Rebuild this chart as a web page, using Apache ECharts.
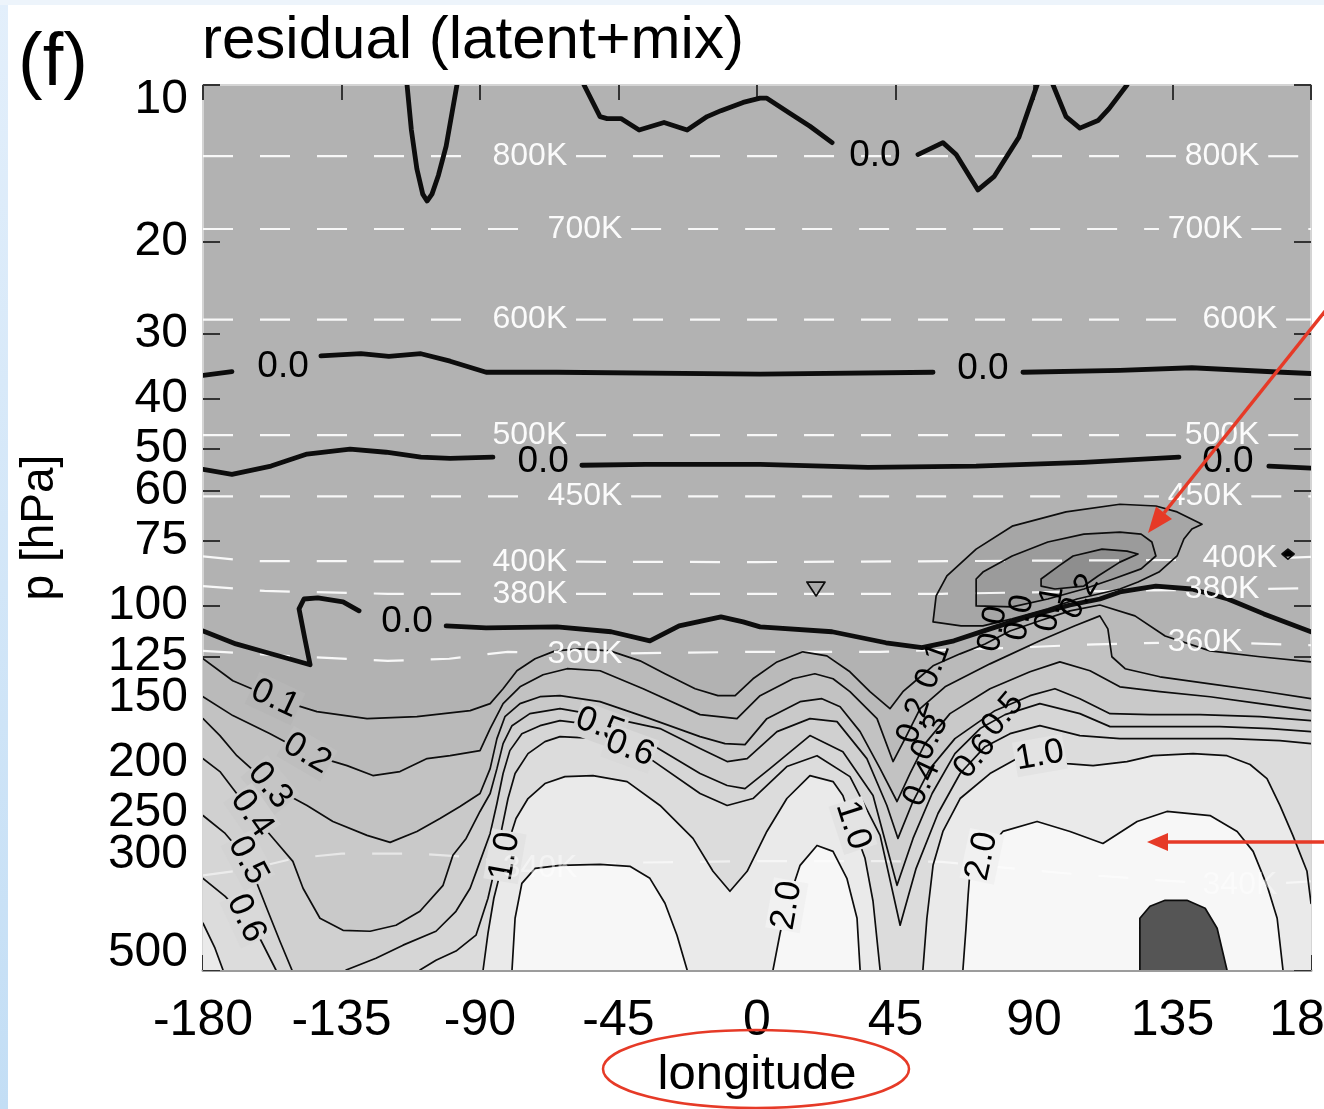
<!DOCTYPE html>
<html>
<head>
<meta charset="utf-8">
<title>residual (latent+mix)</title>
<script src="https://cdn.jsdelivr.net/npm/echarts/dist/echarts.min.js"></script>
<style>
html, body { margin: 0; padding: 0; background: #fff; }
#main { width: 1324px; height: 1109px; }
</style>
</head>
<body>
<div id="main"></div>
<script>
// axis extent
var LON_MIN = -180, LON_MAX = 180, P_TOP = 10, P_BOTTOM = 500;
var pressureTicks = [10, 20, 30, 40, 50, 60, 75, 100, 125, 150, 200, 250, 300, 500];

// thick 0.0 contours [lon, p], null = gap for a label
var zeroTopV = [[-113.7,10],[-112.3,12.2],[-110.5,14.5],[-108.6,16.2],[-107.2,16.7],[-105.6,16.2],[-103.5,14.9],[-101,13.1],[-97.5,10]];
var zeroTopMid = [[-56.2,10],[-51,11.5],[-48.7,11.6],[-44.2,11.6],[-38.3,12.2],[-30.2,11.8],[-22.7,12.2],[-16.2,11.5],[-11.7,11.2],[-4.5,10.8],[1,10.6],[3.2,10.6],[10.4,11.3],[17.2,12],[24.4,12.9],null,[52.3,13.6],[60.4,12.9],[64.7,13.6],[71.8,15.9],[77,15],[85.1,12.6],[91,10]];
var zeroTopRight = [[96.2,10],[100.4,11.5],[104.9,12.1],[110.8,11.7],[114.4,11.1],[120.2,10]];
var zero35 = [[-180,36.1],[-170.6,35.5],null,[-141.7,33.1],[-128.7,32.8],[-119.6,33.2],[-109.2,32.8],[-99.7,33.9],[-88,35.6],[-65,35.6],[1,35.9],[57.2,35.6],null,[86.4,35.6],[117.9,35.3],[141.3,34.9],[170.6,35.6],[180,35.8]];
var zero55 = [[-180,54.7],[-170.6,55.9],[-157.9,53.9],[-146.2,51.1],[-132.2,50],[-120.5,50.7],[-109.2,51.8],[-99.7,52.1],[-85.8,51.8],null,[-56.9,53.7],[-36.1,53.5],[1,53.5],[36.1,54.2],[71.2,53.9],[106.2,53],[137.1,51.8],null,[166.3,53.9],[180,54.4]];
var zero100 = [[-180,111.7],[-169.3,118.3],[-160.2,122.5],[-152.1,126.3],[-145.2,129.7],[-146.9,115.7],[-148.8,101.3],[-147.2,97],[-142.7,96.5],[-134.5,98.2],[-129.3,102.2],null,[-101,109.2],[-88,110.2],[-65,109.7],[-47.4,112.1],[-34.8,116.7],[-25.3,109.2],[-11.7,105],[-4.5,107.3],[1,109.7],[24.4,112.1],[41.9,117.7],[53.6,120.3],[64,116.7],[75.7,110.7],[88.7,104.5],[101.7,99.6],[111.4,97],[117.9,94],[129.6,91.6],[141.3,92.8],[153,97],[164.7,103.6],[180,112.1]];

// thin positive contours
var level01 = [[-180,126.3],[-170.3,139.2],[-156.6,150.7],[-143,159.6],[-126.7,164.6],[-110.5,163.2],[-93.2,158.9],[-86.7,154],[-82.5,144.2],[-78,133.2],[-72.1,126.3],[-65.6,122],[-57.5,120.9],[-47.8,122],[-38,127.5],[-29.9,135],[-20.1,144.2],[-12.7,148.7],[-7.1,148.7],[-1.3,138],[6.5,128.1],[14.9,122.5],[22.7,124.7],[30.2,133.8],[36.7,146.1],[43.2,157.5],[47.4,146.1],[52.3,138],[57.2,130.3],[66,123.6],[74.1,118.3],[82.2,111.7],[91.9,106.8],[101.7,102.2],[111.4,99.6],[122.8,104.5],[132.6,114.2],[147.2,122],[163.4,125.2],[180,128.1]];
var level02 = [[-180,149.4],[-170.3,162.4],[-158.2,175.9],[-146.2,192.1],[-133.2,202.6],[-124.8,211.7],[-116,208],[-107.2,196.4],[-99.7,193.9],[-90,189.6],[-86.7,172],[-82.5,154],[-77,143],[-69.5,135.6],[-61.7,132],[-51,133.2],[-37,144.2],[-18.5,161.7],[-6.5,164.6],[1,148.7],[11.7,138],[18.8,135],[24.7,138],[30.2,146.1],[39,164.6],[44.2,199],[48.1,179.8],[53,157.5],[61.1,143],[75.7,129.2],[91.9,116.7],[103.3,109.2],[111.4,104.5],[114,110.7],[115.3,125.2],[119.6,132],[130.9,136.8],[147.2,141.1],[163.4,145.5],[180,150.7]];
var level03 = [[-180,164.6],[-174.5,177.4],[-169,193.9],[-158.2,221.2],[-146.2,241.6],[-137.8,259.3],[-126.7,275.8],[-119.2,284.4],[-110.5,271],[-103,255.9],[-96.5,242.7],[-90,229.2],[-86.7,205.3],[-84.5,179.8],[-81.9,163.2],[-77,154],[-70.5,149.4],[-64,148.7],[-51,152.7],[-34.8,164.6],[-18.5,178.2],[-10.4,183.8],[-3.9,184.6],[3.2,164.6],[14,152.7],[21.1,150.7],[27,156.2],[33.5,174.3],[40,205.3],[45.5,237.4],[49.7,209.8],[54.6,183.8],[62.7,161],[75.7,144.2],[88.7,133.8],[98.4,128.1],[108.2,133.2],[117.9,143],[130.9,146.1],[147.2,149.4],[163.4,154],[180,158.9]];
var level04 = [[-180,196.4],[-174.5,208],[-170.3,224.2],[-164.1,250.3],[-156.6,282],[-150.8,309.3],[-147.5,348.4],[-142,397.8],[-134.5,419.5],[-125.7,421.3],[-117.3,410.2],[-109.5,385.7],[-102,343.9],[-98.8,301.2],[-94.5,279.5],[-90,248.1],[-86.7,229.2],[-84.5,205.3],[-82.5,183.8],[-79.6,169.8],[-73.8,161],[-64,157.5],[-51,162.4],[-31.5,172],[-18.5,187.9],[-9.7,199],[-3.2,196.4],[6.5,174.3],[17.2,164.6],[26,166.8],[35.7,196.4],[42.2,241.6],[45.8,279.5],[50.4,239.5],[56.2,205.3],[64.3,179.8],[77.3,158.9],[88.7,148.7],[96.8,144.2],[104.9,150.7],[114.7,161],[127.7,161.7],[143.9,161.7],[163.4,163.2],[180,166.1]];
var level05a = [[-180,252.6],[-172.8,273.4],[-165.4,307.9],[-158.9,385.7],[-155,440.3],[-151.1,500]];
var level05b = [[-133.5,500],[-123.8,474.6],[-115,448],[-104.3,421.3],[-97.8,385.7],[-93.2,348.4],[-90,309.3],[-86.7,273.4],[-84.5,239.5],[-82.5,209.8],[-80.3,189.6],[-76.4,175.9],[-70.5,169.8],[-64,166.1],[-51,169.8],[-34.8,183.8],[-18.5,209.8],[-9.7,221.2],[-3.9,224.2],[4.2,205.3],[17.2,177.4],[27.9,190.5],[37.7,231.2],[45.5,343.9],[50.7,279.5],[56.9,229.2],[64.3,192.1],[72.5,172],[80.6,161.7],[91.9,154],[104.9,161],[114.7,170.5],[130.9,170.5],[150.4,170.5],[166.7,172],[180,174.3]];
var level06a = [[-180,333.4],[-172.8,361],[-166,397.8],[-161.2,438.4],[-156.3,500]];
var level06b = [[-109.5,500],[-104.3,478.7],[-97.8,459.9],[-91.3,428.7],[-87.4,364.1],[-84.8,312.1],[-82.9,267.4],[-80.9,234.3],[-78.6,209.8],[-74.4,192.1],[-68.9,182.2],[-64,178.2],[-51,179.8],[-34.8,196.4],[-18.5,229.2],[-9.7,241.6],[-1.3,234.3],[9.7,203.4],[19.5,193.9],[30.2,212.7],[40,275.8],[46.5,410.2],[51.7,319],[58.8,250.3],[66,209.8],[74.1,186.3],[82.2,175.9],[91.9,169.8],[104.9,177.4],[117.9,179.8],[134.2,179.8],[153.7,179.8],[169.9,181.4],[180,183.8]];
var level10a = [[-180,406.6],[-176.1,454.1],[-173.5,500]];
var level10b = [[-89,500],[-87.4,425],[-85.5,364.1],[-82.9,316.2],[-80.9,285.8],[-78.3,255.9],[-74.4,234.3],[-68.9,219.3],[-62.4,212.7],[-53.3,211.7],[-42.2,217.4],[-31.5,241.6],[-20.8,279.5],[-14.3,323.2],[-8.8,353.1],[-3.2,323.2],[3.2,271],[9.7,234.3],[17.2,211.7],[24.7,217.4],[27.9,231.2],[31.2,263.9],[35.1,305.2],[37.7,369],[40,500]];
var level10c = [[53.9,500],[55.2,397.8],[57.2,314.8],[60.4,271],[66,234.3],[75.7,209.8],[84.5,196.4],[91.9,194.7],[100.7,200.8],[109.2,202.6],[120.2,199],[128.7,193.9],[141.7,192.1],[152.7,193.9],[160.2,201.6],[165.7,214.5],[169.9,241.6],[174.1,275.8],[178.7,323.2],[180,372.3]];
var level20a = [[-79.6,500],[-78.6,397.8],[-76.4,340.9],[-72.1,319],[-64,314.8],[-51,313.4],[-41.3,316.2],[-34.8,333.4],[-29.9,372.3],[-26,428.7],[-22.7,500]];
var level20b = [[5.2,500],[7.5,425],[9.7,375.6],[14,314.8],[19.5,288.3],[24.7,296],[29.2,333.4],[32.5,397.8],[33.5,500]];
var level20c = [[66.9,500],[67.9,415.8],[68.6,359.4],[69.2,323.2],[73.1,302.5],[79.9,271],[91,259.3],[101.7,271],[112.4,285.8],[123.5,259.3],[133.2,248.1],[147.2,252.6],[156,271],[161.2,296],[165.7,343.9],[169,397.8],[170.9,500]];
var peakPatch = [[124.4,500],[124.4,397.8],[127.7,377.3],[132.6,367.4],[139.7,367.4],[145.6,380.6],[149.5,415.8],[152.7,500]];

// closed negative contours near 100E, 80 hPa
var negOuter = [[57.2,107.3],[58.2,95.7],[61.7,87.6],[71.2,77.8],[82.9,70.3],[100.4,66],[117.9,63.8],[129.6,64.3],[136.5,66],[144.6,69.7],[141.3,71.2],[138.7,74.4],[136.5,80.2],[130.6,86.1],[123.8,90],[117.9,92.8],[104,97],[94.5,101.3],[82.9,105.9],[73.4,109.2],[66.3,109.2]];
var negMid = [[71.2,88.8],[73.4,86.1],[82.9,80.2],[94.5,75.4],[106.2,72.8],[117.9,72.2],[124.8,72.8],[128.3,75.4],[129.6,80.2],[124.8,84.9],[115.7,88.8],[106.2,92.8],[94.5,97],[82.9,100.4],[71.2,100]];
var negInner = [[92.3,88.8],[98.1,83.8],[102.7,80.2],[112.1,77.8],[120.2,78.5],[123.8,79.5],[117.9,82.4],[110.8,87.6],[106.2,91.6],[96.8,92.8],[92.3,91.6]];
var negSmall = [[16.2,90],[22.1,90],[19.2,95.7]];
var blackDot = [[170.6,79.5],[172.5,77.8],[174.5,79.5],[172.5,81.3]];

// isentropes (potential temperature)
var theta800 = [[-180,13.7],[180,13.7]];
var theta700 = [[-180,18.9],[180,18.9]];
var theta600 = [[-180,28.2],[180,28.2]];
var theta500 = [[-180,47],[180,47]];
var theta450 = [[-180,61.6],[180,61.6]];
var theta400 = [[-180,80.3],[-165,82],[0,82.4],[160,81.5],[180,80.5]];
var theta380 = [[-180,91.6],[-160,93.6],[-120,94.8],[60,94.8],[120,93.5],[180,92.5]];
var theta360 = [[-180,122],[-150,125],[-120,127.5],[-100,126.3],[-81,122.5],[-56,123.6],[0,122.5],[40,122.5],[80,120.5],[110,118.5],[145,117.2],[180,119]];
var theta340 = [[-180,329],[-170,323],[-160,315],[-150,305],[-135,299],[-110,299],[-95,303],[-85,308],[-70,319],[-40,311],[0,309],[40,309],[60,310],[100,326],[130,336],[157,344],[180,338]];
var isentropeLabels = [[-73.8,13.7,'800K'],[151.1,13.7,'800K'],[-55.9,18.9,'700K'],[145.6,18.9,'700K'],[-73.8,28.2,'600K'],[156.9,28.2,'600K'],[-73.8,47,'500K'],[151.1,47,'500K'],[-55.9,61.6,'450K'],[145.6,61.6,'450K'],[-73.8,82.4,'400K'],[156.9,80.8,'400K'],[-73.8,94.8,'380K'],[151.1,92.8,'380K'],[-55.9,123.6,'360K'],[145.6,117.2,'360K'],[-70.5,319,'340K'],[156.9,344,'340K']];

// contour labels [lon, p, text]
var zeroLabels = [[-154,34.7,'0.0'],[73.4,35,'0.0'],[-69.5,53,'0.0'],[153,52.8,'0.0'],[-113.7,107.3,'0.0'],[38.3,13.7,'0.0']];
var levelLabels = [[-156.6,150.7,'0.1'],[-146.2,192.1,'0.2'],[-158.2,221.2,'0.3'],[-164.1,250.3,'0.4'],[-165.4,307.9,'0.5'],[-166,397.8,'0.6'],[-51,169.8,'0.5'],[-41.3,187.9,'0.6'],[-81.9,302.5,'1.0'],[9.7,375.6,'2.0'],[31.2,263.9,'1.0'],[73.1,302.5,'2.0'],[91.9,193.9,'1.0']];
var levelLabelAngles = [-25, -30, -50, -55, -62, -65, -20, -20, 80, 80, -72, 78, 10];
var crowdedLabels = [[57.2,130.3,'0.1'],[51,166.1,'0.2'],[56.2,179,'0.3'],[53.6,219.3,'0.4'],[79.9,161.7,'0.5'],[70.8,194.7,'0.6'],[76.7,110.7,'0.0'],[85.4,105.4,'0.0'],[95.2,101.3,'0.1'],[104.9,96.1,'0.2']];
var crowdedLabelAngles = [70, 72, 65, 65, 50, 50, 80, 80, 80, 60];

// ---------------------------------------------------------------
var LABEL_FONT = '"Liberation Sans", Arial, sans-serif';

function toY(p) { return Math.log10(p); }

function closeBand(line, side) {
  var pts = line.slice();
  if (side === 'both') { pts.push([LON_MAX, P_BOTTOM], [LON_MIN, P_BOTTOM]); }
  else if (side === 'left') { pts.push([LON_MIN, P_BOTTOM]); }
  else if (side === 'right') { pts.push([LON_MAX, P_BOTTOM]); }
  return pts;
}

function splitRuns(pts) {
  var runs = [[]];
  pts.forEach(function (d) {
    if (d === null) { runs.push([]); } else { runs[runs.length - 1].push(d); }
  });
  return runs.filter(function (r) { return r.length > 1; });
}

// break a dashed isentrope where its labels sit
function cutGaps(pts, centers, half) {
  var out = [];
  var inGap = function (lon) {
    return centers.some(function (c) { return Math.abs(lon - c) < half; });
  };
  for (var i = 0; i < pts.length; i++) {
    var b = pts[i];
    if (i > 0) {
      var a = pts[i - 1];
      var edges = [];
      centers.forEach(function (c) {
        edges.push({ lon: c - half, open: true }, { lon: c + half, open: false });
      });
      edges.filter(function (e) { return e.lon > a[0] && e.lon < b[0]; })
        .sort(function (u, v) { return u.lon - v.lon; })
        .forEach(function (e) {
          var t = (e.lon - a[0]) / (b[0] - a[0]);
          var q = [e.lon, a[1] + (b[1] - a[1]) * t];
          if (e.open) { out.push(q, null); } else { out.push(q); }
        });
    }
    if (!inGap(b[0])) out.push(b);
  }
  return out;
}

// filled bands, painted from low to high values
var fills = [
  { pts: closeBand(level01, 'both'), color: '#bababa' },
  { pts: closeBand(level02, 'both'), color: '#c2c2c2' },
  { pts: closeBand(level03, 'both'), color: '#c9c9c9' },
  { pts: closeBand(level04, 'both'), color: '#d0d0d0' },
  { pts: closeBand(level05a, 'left'), color: '#d6d6d6' },
  { pts: closeBand(level05b, 'right'), color: '#d6d6d6' },
  { pts: closeBand(level06a, 'left'), color: '#dcdcdc' },
  { pts: closeBand(level06b, 'right'), color: '#dcdcdc' },
  { pts: closeBand(level10a, 'left'), color: '#eaeaea' },
  { pts: level10b, color: '#eaeaea' },
  { pts: closeBand(level10c, 'right'), color: '#eaeaea' },
  { pts: level20a, color: '#f7f7f7' },
  { pts: level20b, color: '#f7f7f7' },
  { pts: level20c, color: '#f7f7f7' },
  { pts: peakPatch, color: '#555555' },
  { pts: negOuter, color: '#a6a6a6' },
  { pts: negMid, color: '#9b9b9b' },
  { pts: negInner, color: '#8e8e8e' },
  { pts: negSmall, color: '#aaaaaa' },
  { pts: blackDot, color: '#000000' }
];

var strokes = [];
[zeroTopV, zeroTopMid, zeroTopRight, zero35, zero55, zero100].forEach(function (l) {
  splitRuns(l).forEach(function (r) { strokes.push({ pts: r, width: 4.8 }); });
});
[level01, level02, level03, level04, level05a, level05b, level06a, level06b,
 level10a, level10b, level10c, level20a, level20b, level20c, peakPatch].forEach(function (l) {
  strokes.push({ pts: l, width: 1.7 });
});
[negOuter, negMid, negInner, negSmall, blackDot].forEach(function (l) {
  strokes.push({ pts: l.concat([l[0]]), width: 1.7 });
});

var isentropes = [['800K', theta800], ['700K', theta700], ['600K', theta600], ['500K', theta500],
  ['450K', theta450], ['400K', theta400], ['380K', theta380], ['360K', theta360], ['340K', theta340]];
var dashed = [];
isentropes.forEach(function (it) {
  var cuts = isentropeLabels.filter(function (l) { return l[2] === it[0]; }).map(function (l) { return l[0]; });
  splitRuns(cutGaps(it[1], cuts, 15)).forEach(function (r) {
    dashed.push({ pts: r, faint: it[0] === '340K' });
  });
});

var texts = [];
zeroLabels.forEach(function (l) {
  texts.push({ at: l, text: l[2], angle: 0, size: 37, color: '#000' });
});
var labelBg = { '0.1': '#b6b6b6', '0.2': '#bebebe', '0.3': '#c5c5c5', '0.4': '#cdcdcd',
  '0.5': '#d3d3d3', '0.6': '#d9d9d9', '1.0': '#e3e3e3', '2.0': '#f1f1f1' };
levelLabels.forEach(function (l, i) {
  texts.push({ at: l, text: l[2], angle: levelLabelAngles[i], size: 35, color: '#000', bg: labelBg[l[2]] });
});
crowdedLabels.forEach(function (l, i) {
  texts.push({ at: l, text: l[2], angle: crowdedLabelAngles[i], size: 33, color: '#000' });
});
isentropeLabels.forEach(function (l) {
  texts.push({ at: l, text: l[2], angle: 0, size: 32, color: '#ffffff', opacity: l[2] === '340K' ? 0.45 : 0.95 });
});

function project(api, pts) {
  return pts.map(function (d) { return api.coord([d[0], toY(d[1])]); });
}
function indexData(arr) {
  return arr.map(function (x, i) { return [0, 2, i]; });
}

var chart = echarts.init(document.getElementById('main'));
var option = {
  animation: false,
  backgroundColor: '#ffffff',
  textStyle: { fontFamily: LABEL_FONT },
  grid: { left: 203, right: 13, top: 85, bottom: 139, show: true, backgroundColor: '#b2b2b2',
    borderWidth: 0, outerBoundsMode: 'none', containLabel: false },
  xAxis: [{
    type: 'value', min: LON_MIN, max: LON_MAX, interval: 45, position: 'bottom',
    axisLine: { show: true, onZero: false, lineStyle: { color: '#9c9c9c', width: 3 } },
    axisTick: { show: true, inside: true, length: 15, lineStyle: { color: '#333', width: 2 } },
    axisLabel: { color: '#000', fontSize: 50, margin: 26 },
    splitLine: { show: false },
    name: 'longitude', nameLocation: 'middle', nameGap: 73,
    nameTextStyle: { color: '#000', fontSize: 49 }
  }, {
    type: 'value', min: LON_MIN, max: LON_MAX, interval: 45, position: 'top',
    axisLine: { show: true, onZero: false, lineStyle: { color: '#d4d4d4', width: 2 } },
    axisTick: { show: true, inside: true, length: 15, lineStyle: { color: '#333', width: 2 } },
    axisLabel: { show: false }, splitLine: { show: false }
  }],
  yAxis: [{
    type: 'value', min: toY(P_TOP), max: toY(P_BOTTOM), inverse: true, position: 'left',
    axisLine: { show: true, onZero: false, lineStyle: { color: '#d4d4d4', width: 2 } },
    axisTick: { show: true, inside: true, length: 17, customValues: pressureTicks.map(toY),
      lineStyle: { color: '#333', width: 2 } },
    axisLabel: {
      color: '#000', fontSize: 48, margin: 15, customValues: pressureTicks.map(toY),
      formatter: function (v) {
        var p = Math.round(Math.pow(10, v));
        if (p === P_TOP) return '{top|' + p + '}';
        if (p === P_BOTTOM) return '{bot|' + p + '}';
        return String(p);
      },
      rich: {
        top: { fontSize: 48, color: '#000', padding: [30, 0, 0, 0] },
        bot: { fontSize: 48, color: '#000', padding: [0, 0, 34, 0] }
      }
    },
    splitLine: { show: false },
    name: 'p [hPa]', nameLocation: 'middle', nameGap: 140,
    nameTextStyle: { color: '#000', fontSize: 46 }
  }, {
    type: 'value', min: toY(P_TOP), max: toY(P_BOTTOM), inverse: true, position: 'right',
    axisLine: { show: true, onZero: false, lineStyle: { color: '#d4d4d4', width: 2 } },
    axisTick: { show: true, inside: true, length: 17, customValues: pressureTicks.map(toY),
      lineStyle: { color: '#333', width: 2 } },
    axisLabel: { show: false }, splitLine: { show: false }
  }],
  series: [{
    type: 'custom', name: 'bands', coordinateSystem: 'cartesian2d', clip: true, silent: true, z: 1,
    data: indexData(fills),
    renderItem: function (params, api) {
      var f = fills[params.dataIndex];
      return { type: 'polygon', shape: { points: project(api, f.pts) }, style: { fill: f.color } };
    }
  }, {
    type: 'custom', name: 'isentropes', coordinateSystem: 'cartesian2d', clip: true, silent: true, z: 2,
    data: indexData(dashed),
    renderItem: function (params, api) {
      var d = dashed[params.dataIndex];
      return { type: 'polyline', shape: { points: project(api, d.pts) },
        style: { fill: null, stroke: '#ffffff', lineWidth: 2.2, lineDash: [30, 27], opacity: d.faint ? 0.55 : 0.9 } };
    }
  }, {
    type: 'custom', name: 'contours', coordinateSystem: 'cartesian2d', clip: true, silent: true, z: 3,
    data: indexData(strokes),
    renderItem: function (params, api) {
      var s = strokes[params.dataIndex];
      return { type: 'polyline', shape: { points: project(api, s.pts) },
        style: { fill: null, stroke: '#0d0d0d', lineWidth: s.width, lineJoin: 'round', lineCap: 'round' } };
    }
  }, {
    type: 'custom', name: 'labels', coordinateSystem: 'cartesian2d', clip: true, silent: true, z: 4,
    data: indexData(texts),
    renderItem: function (params, api) {
      var t = texts[params.dataIndex];
      var pt = api.coord([t.at[0], toY(t.at[1])]);
      var style = { text: t.text, fill: t.color, font: t.size + 'px ' + LABEL_FONT,
        align: 'center', verticalAlign: 'middle', opacity: t.opacity == null ? 1 : t.opacity };
      if (t.bg) { style.backgroundColor = t.bg; style.padding = [0, 1]; }
      return { type: 'text', x: pt[0], y: pt[1], rotation: t.angle * Math.PI / 180, style: style };
    }
  }],
  graphic: [
    { type: 'rect', left: 0, top: 0, z: 100, shape: { width: 8, height: 1109 },
      style: { fill: new echarts.graphic.LinearGradient(0, 0, 0, 1, [{ offset: 0, color: '#e3effb' }, { offset: 1, color: '#c3def5' }]) } },
    { type: 'rect', left: 0, top: 0, z: 100, shape: { width: 1324, height: 5 }, style: { fill: '#edf4fb' } },
    { type: 'text', left: 18, top: 28, z: 100, style: { text: '(f)', font: '74px ' + LABEL_FONT, fill: '#000' } },
    { type: 'text', left: 202, top: 11, z: 100, style: { text: 'residual (latent+mix)', font: '60px ' + LABEL_FONT, fill: '#000' } },
    { type: 'line', z: 100, shape: { x1: 1334, y1: 300, x2: 1164, y2: 513 }, style: { stroke: '#e63a27', lineWidth: 3.5 } },
    { type: 'polygon', z: 100, shape: { points: [[1148, 533], [1172, 519], [1156, 506.5]] }, style: { fill: '#e63a27' } },
    { type: 'line', z: 100, shape: { x1: 1334, y1: 842, x2: 1164, y2: 842 }, style: { stroke: '#e63a27', lineWidth: 3.5 } },
    { type: 'polygon', z: 100, shape: { points: [[1147, 842], [1168, 833], [1168, 851]] }, style: { fill: '#e63a27' } },
    { type: 'ellipse', z: 100, shape: { cx: 756, cy: 1069, rx: 153, ry: 39 }, style: { fill: null, stroke: '#e63a27', lineWidth: 2.5 } }
  ]
};
chart.setOption(option);
</script>
</body>
</html>
